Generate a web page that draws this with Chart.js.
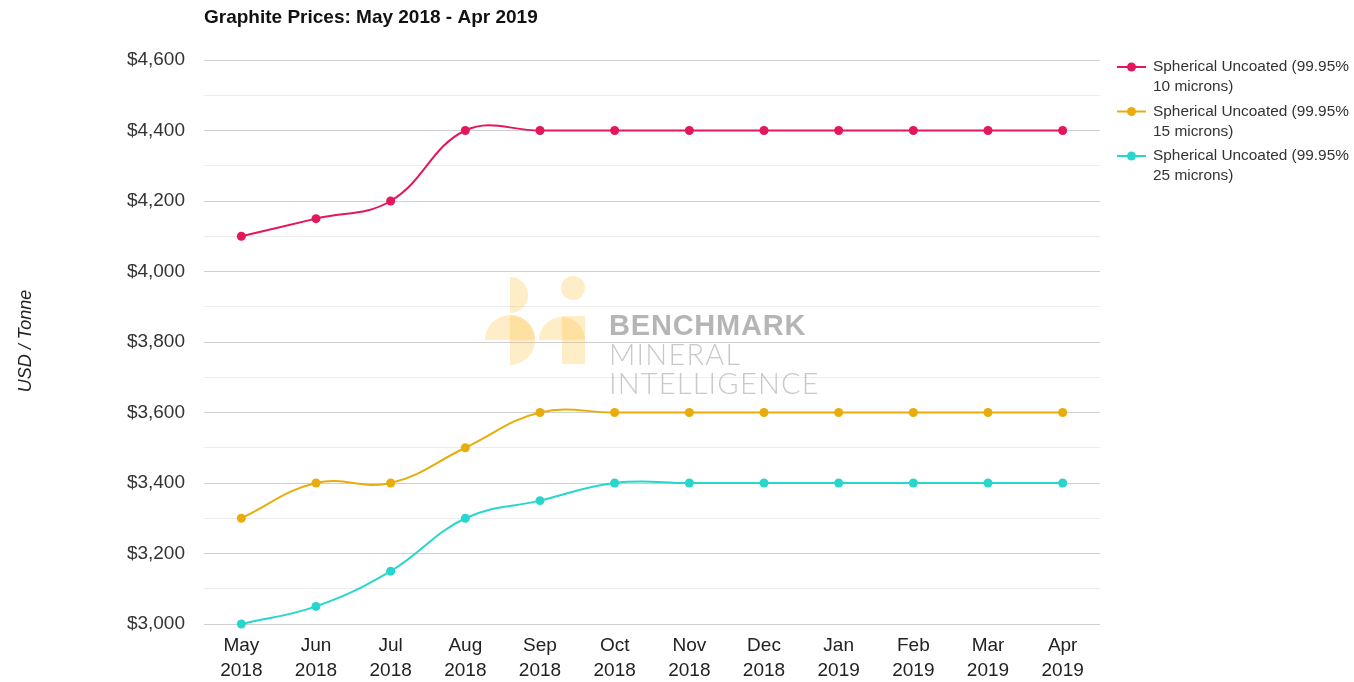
<!DOCTYPE html>
<html>
<head>
<meta charset="utf-8">
<script src="https://cdn.jsdelivr.net/npm/chart.js@4.4.1/dist/chart.umd.min.js"></script>
<style>
  html, body { margin: 0; padding: 0; background: #fff; }
  #wrap { width: 1354px; height: 682px; position: relative; }
</style>
</head>
<body>
<div id="wrap"><canvas id="priceChart"></canvas></div>
<script>
// Chart data
const months = [
    ['May', '2018'], ['Jun', '2018'], ['Jul', '2018'], ['Aug', '2018'],
    ['Sep', '2018'], ['Oct', '2018'], ['Nov', '2018'], ['Dec', '2018'],
    ['Jan', '2019'], ['Feb', '2019'], ['Mar', '2019'], ['Apr', '2019']
];
const microns10 = [4100, 4150, 4200, 4400, 4400, 4400, 4400, 4400, 4400, 4400, 4400, 4400];
const microns15 = [3300, 3400, 3400, 3500, 3600, 3600, 3600, 3600, 3600, 3600, 3600, 3600];
const microns25 = [3000, 3050, 3150, 3300, 3350, 3400, 3400, 3400, 3400, 3400, 3400, 3400];
const seriesNames = [
    ['Spherical Uncoated (99.95%', '10 microns)'],
    ['Spherical Uncoated (99.95%', '15 microns)'],
    ['Spherical Uncoated (99.95%', '25 microns)']
];
const seriesColors = ['#e3175a', '#e8ad0c', '#27d6cc'];
const chartTitle = 'Graphite Prices: May 2018 - Apr 2019';
const yTitle = 'USD / Tonne';

const FONT = '"Liberation Sans", Arial, Helvetica, sans-serif';

// Title, axis title, legend and watermark drawn on the canvas
const decorPlugin = {
    id: 'decor',
    beforeDatasetsDraw(chart) {
        const ctx = chart.ctx;
        ctx.save();
        // watermark logo
        ctx.fillStyle = 'rgba(252, 196, 70, 0.3)';
        const shape = (fn) => { ctx.beginPath(); fn(); ctx.fill(); };
        shape(() => { ctx.arc(510, 295, 18, -Math.PI / 2, Math.PI / 2); ctx.closePath(); });
        shape(() => { ctx.arc(510, 340, 25, Math.PI, 2 * Math.PI); ctx.closePath(); });
        shape(() => { ctx.arc(510, 340, 25, -Math.PI / 2, Math.PI / 2); ctx.closePath(); });
        shape(() => { ctx.arc(573, 288, 12, 0, 2 * Math.PI); });
        shape(() => { ctx.arc(562, 340, 23, Math.PI, 2 * Math.PI); ctx.closePath(); });
        shape(() => { ctx.rect(562, 316, 23, 48); });
        // watermark text
        ctx.textBaseline = 'alphabetic';
        ctx.textAlign = 'left';
        ctx.fillStyle = 'rgba(150, 150, 150, 0.7)';
        ctx.font = 'bold 29px ' + FONT;
        ctx.letterSpacing = '0.8px';
        ctx.fillText('BENCHMARK', 609, 335);
        ctx.fillStyle = 'rgba(165, 165, 165, 0.6)';
        ctx.font = '300 29px Lato, "Open Sans", ' + FONT;
        ctx.letterSpacing = '1.2px';
        ctx.fillText('MINERAL', 609, 365);
        ctx.fillText('INTELLIGENCE', 609, 394);
        ctx.letterSpacing = '0px';
        ctx.restore();
    },
    afterDraw(chart) {
        const ctx = chart.ctx;
        ctx.save();
        // title
        ctx.fillStyle = '#111';
        ctx.font = 'bold 19px ' + FONT;
        ctx.textAlign = 'left';
        ctx.textBaseline = 'middle';
        ctx.fillText(chartTitle, 204, 18);
        // y axis title
        ctx.translate(26, 341);
        ctx.rotate(-Math.PI / 2);
        ctx.textAlign = 'center';
        ctx.font = 'italic 18px ' + FONT;
        ctx.fillStyle = '#222';
        ctx.fillText(yTitle, 0, 0);
        ctx.restore();

        // legend
        ctx.save();
        ctx.font = '15.4px ' + FONT;
        ctx.textBaseline = 'middle';
        ctx.textAlign = 'left';
        seriesNames.forEach((lines, i) => {
            const y = 67 + i * 44.5;
            ctx.strokeStyle = seriesColors[i];
            ctx.fillStyle = seriesColors[i];
            ctx.lineWidth = 2;
            ctx.beginPath();
            ctx.moveTo(1117, y);
            ctx.lineTo(1146, y);
            ctx.stroke();
            ctx.beginPath();
            ctx.arc(1131.5, y, 4.5, 0, 2 * Math.PI);
            ctx.fill();
            ctx.fillStyle = '#333';
            lines.forEach((t, j) => ctx.fillText(t, 1153, y + j * 20));
        });
        ctx.restore();
    }
};

function makeDataset(label, data, color) {
    return {
        label: label,
        data: data,
        borderColor: color,
        backgroundColor: color,
        borderWidth: 2,
        pointRadius: 4.5,
        pointHoverRadius: 4.5,
        pointBorderWidth: 0,
        tension: 0.4,
        fill: false,
        clip: false
    };
}

const ctx = document.getElementById('priceChart').getContext('2d');
const priceChart = new Chart(ctx, {
    type: 'line',
    data: {
        labels: months,
        datasets: [
            makeDataset(seriesNames[0].join(' '), microns10, seriesColors[0]),
            makeDataset(seriesNames[1].join(' '), microns15, seriesColors[1]),
            makeDataset(seriesNames[2].join(' '), microns25, seriesColors[2])
        ]
    },
    options: {
        responsive: true,
        maintainAspectRatio: false,
        animation: false,
        layout: {
            padding: { left: 0, right: 254, top: 60, bottom: 0 }
        },
        plugins: {
            legend: { display: false },
            title: { display: false },
            tooltip: { enabled: false }
        },
        scales: {
            x: {
                offset: true,
                grid: { display: false, drawTicks: false },
                border: { display: false },
                ticks: {
                    color: '#222',
                    font: { family: FONT, size: 19, lineHeight: 1.32 },
                    padding: 9,
                    maxRotation: 0,
                    autoSkip: false
                },
                afterFit: (scale) => { scale.height = 58; }
            },
            y: {
                min: 3000,
                max: 4600,
                grid: {
                    drawTicks: false,
                    lineWidth: 1,
                    color: (c) => (c.tick && c.tick.value % 200 === 0) ? '#cfcfcf' : '#ececec'
                },
                border: { display: false },
                ticks: {
                    stepSize: 100,
                    color: '#333',
                    font: { family: FONT, size: 19 },
                    padding: 19,
                    callback: (v) => v % 200 === 0 ? '$' + v.toLocaleString('en-US') : ''
                },
                afterFit: (scale) => { scale.width = 204; }
            }
        }
    },
    plugins: [decorPlugin]
});
</script>
</body>
</html>
